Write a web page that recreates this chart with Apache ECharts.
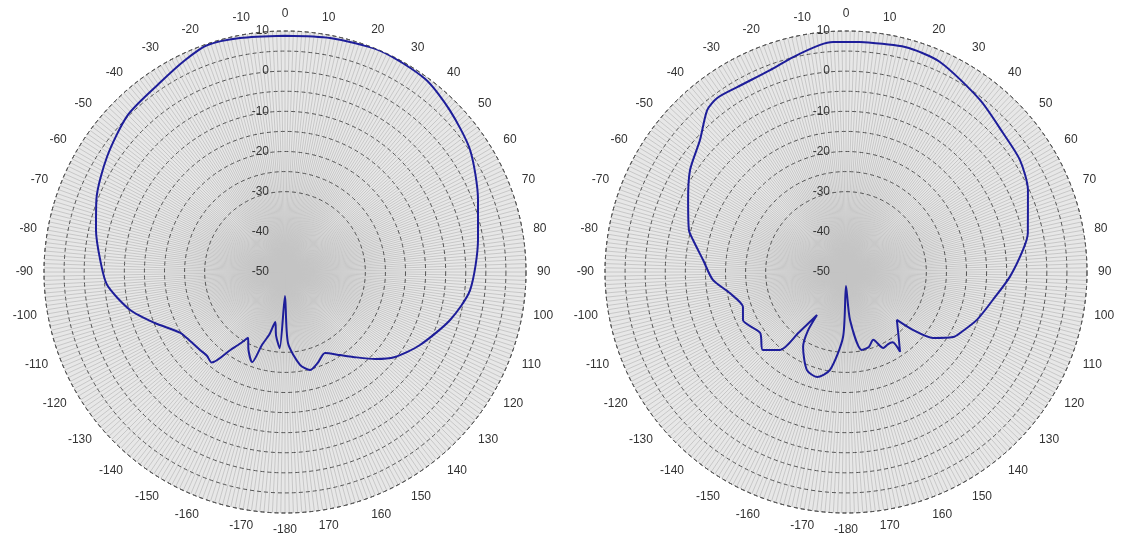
<!DOCTYPE html>
<html><head><meta charset="utf-8">
<script src="https://cdn.jsdelivr.net/npm/echarts@6/dist/echarts.min.js"></script>
<style>html,body{margin:0;padding:0;background:#fff}#c{width:1125px;height:545px}</style>
</head><body><div id="c"></div>
<script>
// Left pattern: angle (deg, clockwise from top) and gain (dB)
const leftAngles = [-180, -176, -172, -169, -166, -162.5, -160, -155, -150.7, -148, -145, -141, -137, -132.5, -126, -120, -111.4, -103.8, -94.2, -86.3, -77.5, -69, -57, -45, -33.3, -25.3, -19, -10.9, 0, 10.9, 23.2, 36, 45.5, 56.6, 69.5, 80.6, 95.6, 106.2, 118.4, 128, 134, 141.3, 146.5, 153.7, 160, 165.7, 170.8, 177.6, 180];
const leftGain = [-44, -31, -34, -37.3, -34, -31, -26.1, -28.5, -31.2, -29, -26.3, -21, -21.5, -21.3, -20.8, -19.8, -15.2, -10.3, -5.6, -3.9, -1.8, 0.3, 2.8, 5.3, 6.5, 8.3, 9.7, 9.3, 8.8, 9.3, 10, 9.4, 7.5, 5.2, 1.3, -1.3, -3.7, -7.2, -11.8, -15.5, -18.8, -22.9, -25.2, -27.5, -26, -24.8, -26.6, -32.3, -44];

// Right pattern
const rightAngles = [-180, -177.4, -170.7, -164.6, -158.3, -150.2, -147, -146, -142, -139.8, -133.2, -125.3, -115, -108.8, -100.3, -93.4, -85.2, -78.2, -75, -65.5, -56.8, -47.9, -40.6, -36.5, -30.5, -20.6, -13.8, -6.5, -3.2, 3.5, 14.7, 24, 37.9, 48.5, 57.2, 65.7, 77.9, 82.9, 91.7, 100.8, 110.1, 118.2, 121.3, 127.2, 130.9, 133.3, 140.6, 145.9, 146.5, 150, 153.9, 158.1, 163, 168.6, 175.2, 180];
const rightGain = [-46.5, -33.8, -25.3, -22.9, -23.7, -28.5, -32.6, -37.1, -30.9, -24.6, -21.6, -23.8, -21.7, -22.9, -20.6, -16.8, -14.3, -11.1, -9.5, -6.8, -3.6, -1.0, 3.1, 3.9, 3.4, 3.7, 5.1, 6.9, 7.35, 7.35, 7.9, 7.3, 4.3, 2.2, 1.5, -0.3, -3.7, -5.6, -9.2, -12.8, -15.3, -17.8, -18.8, -22.8, -28, -32.6, -29.4, -26.0, -29.0, -29.2, -28.9, -31.8, -30.5, -30.2, -38, -46.5];

const radiusLabels = [-50, -40, -30, -20, -10, 0, 10];
const angleLabelStep = 10;

function toPolarData(angles, gains) {
  const pts = angles.map((a, i) => [gains[i], a < 0 ? a + 360 : a]);
  pts.sort((p, q) => p[1] - q[1]);
  pts.push([pts[0][0], pts[0][1] + 360]);
  return pts;
}

function angleFmt(v) {
  if (v % angleLabelStep !== 0 || v === 360) return '';
  if (v === 180) return '-180';
  return String(v > 180 ? v - 360 : v);
}

const circleColors = ['rgba(0,0,0,0)', 'rgba(0,0,0,0)', 'rgba(0,0,0,0)', 'rgba(0,0,0,0)',
  '#555', '#555', '#555', '#555', '#555', '#555', '#555', '#555', '#555'];

const chart = echarts.init(document.getElementById('c'));
const centers = [[285, 272], [846, 272]];
const font = 'Liberation Sans, Arial, sans-serif';
const hidden = { show: false };
chart.setOption({
  animation: false,
  backgroundColor: '#fff',
  // polars 0,1 : main charts ; polars 2,3 : background discs
  polar: centers.concat(centers).map(c => ({ center: c, radius: 241 })),
  angleAxis: centers.map((c, i) => ({
    polarIndex: i, type: 'value', min: 0, max: 360, interval: 1,
    startAngle: 90, clockwise: true, z: 1,
    axisLine: { show: true, lineStyle: { color: '#555', width: 1, type: [4, 3] } },
    axisTick: hidden,
    axisLabel: { margin: 11, color: '#333', fontSize: 12, fontFamily: font, formatter: angleFmt },
    splitLine: { show: true, lineStyle: { color: '#c4c4c4', width: 0.9 } }
  })).concat(centers.map((c, i) => ({
    polarIndex: i + 2, type: 'value', min: 0, max: 360, startAngle: 90, z: 0,
    axisLine: hidden, axisTick: hidden, axisLabel: hidden, splitLine: hidden
  }))),
  radiusAxis: centers.map((c, i) => ({
    polarIndex: i, type: 'value', min: -50, max: 10, interval: 5, z: 3,
    axisLine: hidden, axisTick: hidden,
    axisLabel: { margin: 16, color: '#333', fontSize: 12, fontFamily: font, padding: [6, 0, 0, 0],
      formatter: v => radiusLabels.includes(v) ? String(v) : '' },
    splitLine: { show: true, lineStyle: { color: circleColors, width: 1, type: [4, 3] } }
  })).concat(centers.map((c, i) => ({
    polarIndex: i + 2, type: 'value', min: -50, max: 10, interval: 5, z: 0,
    axisLine: hidden, axisTick: hidden, axisLabel: hidden, splitLine: hidden,
    splitArea: { show: true, areaStyle: { color: ['#e7e7e7'] } }
  }))),
  series: [
    { type: 'line', coordinateSystem: 'polar', polarIndex: 0, data: toPolarData(leftAngles, leftGain),
      showSymbol: false, smooth: 0.25, z: 10, lineStyle: { color: '#1e1e9a', width: 2 } },
    { type: 'line', coordinateSystem: 'polar', polarIndex: 1, data: toPolarData(rightAngles, rightGain),
      showSymbol: false, smooth: 0.25, z: 10, lineStyle: { color: '#1e1e9a', width: 2 } }
  ]
});
</script></body></html>
